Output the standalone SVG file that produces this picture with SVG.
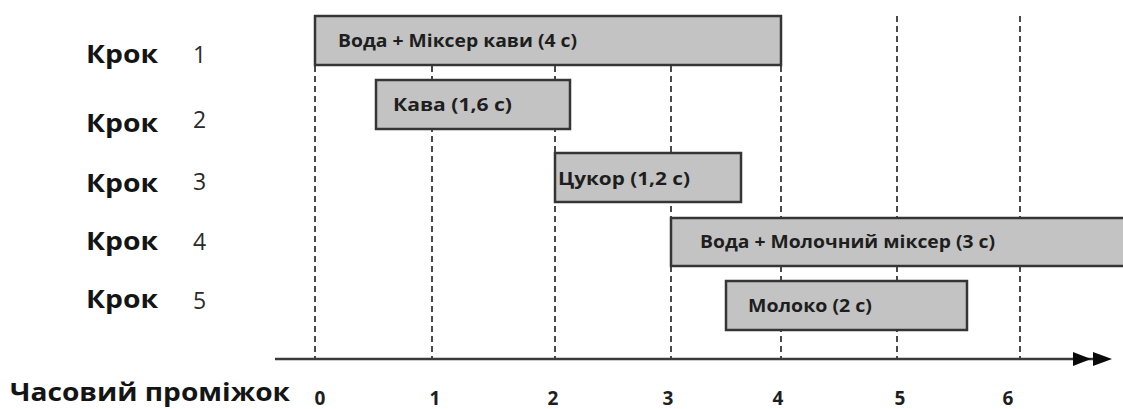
<svg xmlns="http://www.w3.org/2000/svg" width="1123" height="409" viewBox="0 0 1123 409">
<style>
.bg{fill:#ffffff}
.grid{stroke:#4a4a4a;stroke-width:2;stroke-dasharray:6 4;fill:none}
.box{fill:#c3c3c3;stroke:#353535;stroke-width:2.5}
.bt{font-family:"Open Sans","Liberation Sans",sans-serif;font-weight:bold;font-size:17.5px;fill:#1e1e1e}
.step{font-family:"Open Sans","Liberation Sans",sans-serif;font-weight:bold;font-size:25px;fill:#141414}
.num{font-family:"Open Sans","Liberation Sans",sans-serif;font-size:23px;fill:#2a2a2a}
.tick{font-family:"Open Sans","Liberation Sans",sans-serif;font-weight:bold;font-size:19px;fill:#1e1e1e;text-anchor:middle}
.axis{stroke:#3a3a3a;stroke-width:2.5;fill:none}
.head{fill:#0a0a0a}
</style>
<rect class="bg" x="0" y="0" width="1123" height="409"/>
<g id="grid">
<line class="grid" x1="315" y1="16" x2="315" y2="359"/>
<line class="grid" x1="432" y1="16" x2="432" y2="359"/>
<line class="grid" x1="555" y1="16" x2="555" y2="359"/>
<line class="grid" x1="671" y1="16" x2="671" y2="359"/>
<line class="grid" x1="781" y1="16" x2="781" y2="359"/>
<line class="grid" x1="897" y1="16" x2="897" y2="359"/>
<line class="grid" x1="1020" y1="16" x2="1020" y2="359"/>
</g>
<g id="connectors">
<line class="axis" x1="275" y1="359" x2="1100" y2="359"/>
<polygon class="head" points="1073,352 1091,359 1073,366"/>
<polygon class="head" points="1093,352 1112,359 1093,366"/>
</g>
<g id="labels">
<text class="step" x="86" y="63" textLength="72" lengthAdjust="spacingAndGlyphs">Крок</text>
<text class="num" x="193" y="63">1</text>
<text class="step" x="86" y="132" textLength="72" lengthAdjust="spacingAndGlyphs">Крок</text>
<text class="num" x="193" y="128">2</text>
<text class="step" x="86" y="192" textLength="72" lengthAdjust="spacingAndGlyphs">Крок</text>
<text class="num" x="193" y="190">3</text>
<text class="step" x="86" y="250" textLength="72" lengthAdjust="spacingAndGlyphs">Крок</text>
<text class="num" x="193" y="250">4</text>
<text class="step" x="86" y="308" textLength="72" lengthAdjust="spacingAndGlyphs">Крок</text>
<text class="num" x="193" y="309">5</text>
<text class="step" x="10" y="401" textLength="280" lengthAdjust="spacingAndGlyphs">Часовий проміжок</text>
</g>
<g id="ticks">
<text class="tick" x="320" y="405">0</text>
<text class="tick" x="435" y="405">1</text>
<text class="tick" x="553" y="405">2</text>
<text class="tick" x="668" y="405">3</text>
<text class="tick" x="778" y="405">4</text>
<text class="tick" x="900" y="405">5</text>
<text class="tick" x="1008" y="405">6</text>
</g>
<g id="step1">
<rect class="box" x="315" y="16" width="466" height="49"/>
<text class="bt" x="338" y="47" textLength="239" lengthAdjust="spacingAndGlyphs">Вода + Міксер кави (4 с)</text>
</g>
<g id="step2">
<rect class="box" x="376" y="80" width="194" height="49"/>
<text class="bt" x="393" y="111" textLength="119" lengthAdjust="spacingAndGlyphs">Кава (1,6 с)</text>
</g>
<g id="step3">
<rect class="box" x="555" y="153" width="186" height="49"/>
<text class="bt" x="558" y="185" textLength="132" lengthAdjust="spacingAndGlyphs">Цукор (1,2 с)</text>
</g>
<g id="step4">
<rect class="box" x="671" y="218" width="460" height="48"/>
<text class="bt" x="700" y="248" textLength="295" lengthAdjust="spacingAndGlyphs">Вода + Молочний міксер (3 с)</text>
</g>
<g id="step5">
<rect class="box" x="726" y="281" width="241" height="49"/>
<text class="bt" x="748" y="312" textLength="124" lengthAdjust="spacingAndGlyphs">Молоко (2 с)</text>
</g>
</svg>
